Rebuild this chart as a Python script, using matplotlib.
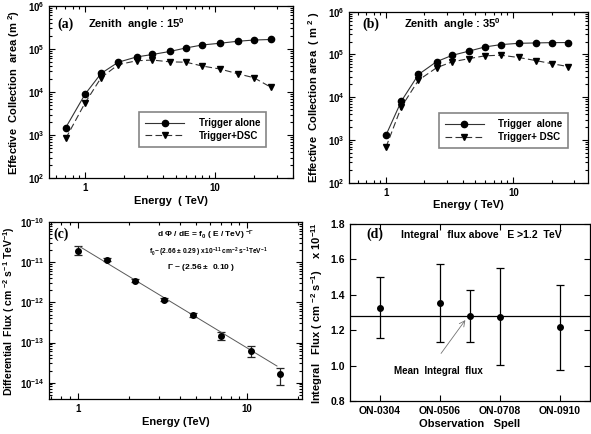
#!/usr/bin/python
""" Effective collection area, differential and integral flux panels """
import matplotlib
matplotlib.use('Agg')
import matplotlib.pyplot as plt
from matplotlib.ticker import LogLocator

plt.rcParams['font.family'] = ['Liberation Sans', 'DejaVu Sans']
plt.rcParams['font.weight'] = 'bold'
plt.rcParams['axes.labelweight'] = 'bold'
plt.rcParams['mathtext.fontset'] = 'custom'
plt.rcParams['mathtext.rm'] = 'Liberation Sans:bold'
plt.rcParams['mathtext.bf'] = 'Liberation Sans:bold'
plt.rcParams['mathtext.it'] = 'Liberation Sans:bold'
plt.rcParams['mathtext.default'] = 'bf'

# panel (a): zenith 15 deg
energy_a = [0.71, 1.0, 1.33, 1.8, 2.5, 3.3, 4.5, 6.0, 8.0, 11, 15, 20, 27]
area_trig_a = [1500, 8900, 27000, 49000, 65000, 74000, 87000, 105000,
               123000, 135000, 150000, 160000, 165000]
area_dsc_a = [840, 5600, 21500, 43000, 53000, 55000, 50000, 49000,
              40000, 34000, 26500, 21400, 12900]

# panel (b): zenith 35 deg
energy_b = [1.0, 1.32, 1.8, 2.5, 3.3, 4.5, 6.0, 8.0, 11, 15, 20, 27]
area_trig_b = [1300, 8100, 34000, 68000, 95000, 120000, 150000, 170000,
               182000, 186000, 189000, 190000]
area_dsc_b = [680, 5900, 25000, 49000, 67000, 80000, 93000, 96000,
              85000, 72000, 61000, 52000]

# panel (c): differential flux
energy_c = [1.0, 1.48, 2.18, 3.24, 4.79, 7.0, 10.6, 15.6]
flux_c = [1.9e-11, 1.17e-11, 3.5e-12, 1.18e-12, 4.9e-13, 1.45e-13, 6.0e-14, 1.6e-14]
flux_lo_c = [1.57e-11, 1.08e-11, 3.25e-12, 1.08e-12, 4.4e-13, 1.15e-13, 4.4e-14, 8.5e-15]
flux_hi_c = [2.55e-11, 1.27e-11, 3.8e-12, 1.28e-12, 5.4e-13, 1.86e-13, 8.3e-14, 2.3e-14]
f0 = 2.66e-11
gamma = 2.56
fit_range = [1.03, 15.0]
flux_ticks = [1e-14, 1e-13, 1e-12, 1e-11, 1e-10]

# panel (d): integral flux per spell
spells = ['ON-0304', 'ON-0506', 'ON-0708', 'ON-0910']
spell_pos = [1, 2, 2.5, 3, 4]
int_flux = [1.327, 1.354, 1.282, 1.276, 1.218]
int_hi = [1.50, 1.576, 1.427, 1.55, 1.455]
int_lo = [1.154, 1.132, 1.132, 1.003, 0.975]
mean_flux = 1.28

W, H = 591.0, 434.0


def px_axes(fig, left, right, top, bottom):
    return fig.add_axes([left / W, 1 - bottom / H, (right - left) / W,
                         (bottom - top) / H])


def style(ax):
    ax.tick_params(which='both', direction='in', top=True, right=True,
                   labelsize=7, width=0.8)
    ax.tick_params(which='major', length=4)
    ax.tick_params(which='minor', length=2.5)
    for sp in ax.spines.values():
        sp.set_linewidth(0.9)


def area_panel(ax, e, trig, dsc, tag, zen, lab1, lab2, xlab, ylab, leg_xy):
    ax.plot(e, trig, '-', color='0.2', lw=0.8, marker='o', ms=4.5,
            mfc='black', mec='black', label=lab1)
    ax.plot(e, dsc, '--', color='0.2', lw=0.8, dashes=(6, 3), marker='v',
            ms=4.5, mfc='black', mec='black', label=lab2)
    ax.set_xscale('log')
    ax.set_yscale('log')
    ax.set_ylim(1e2, 1e6)
    ax.set_yticks([1e2, 1e3, 1e4, 1e5, 1e6])
    ax.yaxis.set_minor_locator(LogLocator(base=10, subs=range(2, 10)))
    ax.set_xticks([1, 10])
    ax.set_xticklabels(['1', '10'])
    ax.set_xlabel(xlab, fontsize=8, labelpad=2)
    ax.set_ylabel(ylab, fontsize=8)
    style(ax)
    ax.text(tag[0], tag[1], tag[2], transform=ax.transAxes, fontsize=10,
            family='Liberation Serif', weight='bold', va='center')
    ax.text(zen[0], zen[1], zen[2], transform=ax.transAxes, fontsize=8,
            va='center')
    leg = ax.legend(loc='lower left', bbox_to_anchor=leg_xy, fontsize=7,
                    handlelength=4.0, fancybox=False, borderpad=0.6,
                    labelspacing=0.3, handletextpad=1.5)
    leg.get_frame().set_edgecolor('0.4')
    leg.get_frame().set_linewidth(1.2)


fig = plt.figure(figsize=(5.91, 4.34), dpi=100)

ax_a = px_axes(fig, 49.3, 293, 5.7, 178.3)
area_panel(ax_a, energy_a, area_trig_a, area_dsc_a, (0.035, 0.895, '(a)'),
           (0.16, 0.895, r'Zenith  angle : 15$^0$'),
           'Trigger alone', 'Trigger+DSC', 'Energy  ( TeV)',
           r'Effective  Collection  area (m $^2$)', (0.35, 0.155))
ax_a.set_xlim(0.53, 40)

ax_b = px_axes(fig, 349.3, 588, 11.7, 182.7)
area_panel(ax_b, energy_b, area_trig_b, area_dsc_b, (0.055, 0.928, '(b)'),
           (0.23, 0.928, r'Zenith  angle : 35$^0$'),
           'Trigger  alone', 'Trigger+ DSC', 'Energy ( TeV)',
           r'Effective  Collection area  ( m $^2$ )', (0.355, 0.175))
ax_b.set_xlim(0.515, 38.6)

# panel (c)
ax_c = px_axes(fig, 49.3, 301.7, 222.3, 399)
yerr = [[f - lo for f, lo in zip(flux_c, flux_lo_c)],
        [hi - f for f, hi in zip(flux_c, flux_hi_c)]]
ax_c.errorbar(energy_c, flux_c, yerr=yerr, fmt='o', ms=4, color='black',
              ecolor='0.15', elinewidth=0.9, capsize=3, capthick=0.9)
ax_c.plot(fit_range, [f0 * e ** (-gamma) for e in fit_range], '-',
          color='0.35', lw=0.7)
ax_c.set_xscale('log')
ax_c.set_yscale('log')
ax_c.set_xlim(0.68, 21)
ax_c.set_ylim(3.9e-15, 1e-10)
ax_c.set_yticks(flux_ticks)
ax_c.yaxis.set_minor_locator(LogLocator(base=10, subs=range(2, 10)))
ax_c.set_xticks([1, 10])
ax_c.set_xticklabels(['1', '10'])
ax_c.set_xlabel('Energy (TeV)', fontsize=8, labelpad=2)
ax_c.set_ylabel(r'Differential  Flux ( cm $^{-2}$ s$^{-1}$ TeV$^{-1}$)',
                fontsize=7.5, labelpad=2)
style(ax_c)
ax_c.text(0.018, 0.93, '(c)', transform=ax_c.transAxes, fontsize=10,
          family='Liberation Serif', weight='bold', va='center')
ax_c.text(0.62, 0.925, r'd $\Phi$ / dE = f$_0$ ( E / TeV) $^{-\Gamma}$',
          transform=ax_c.transAxes, fontsize=6, ha='center', va='center')
ax_c.text(0.63, 0.83,
          r'f$_0$~ (2.66 $\pm$ 0.29 ) x10$^{-11}$ cm$^{-2}$ s$^{-1}$TeV$^{-1}$',
          transform=ax_c.transAxes, fontsize=4.8, ha='center', va='center')
ax_c.text(0.6, 0.745, r'$\Gamma$ ~ (2.56 $\pm$  0.10 )',
          transform=ax_c.transAxes, fontsize=6, ha='center', va='center')

# panel (d)
ax_d = px_axes(fig, 350, 590, 224, 401)
yerr_d = [[f - lo for f, lo in zip(int_flux, int_lo)],
          [hi - f for f, hi in zip(int_flux, int_hi)]]
ax_d.errorbar(spell_pos, int_flux, yerr=yerr_d, fmt='o', ms=4,
              color='black', elinewidth=0.9, capsize=3, capthick=0.9)
ax_d.axhline(mean_flux, color='black', lw=0.9)
ax_d.set_xlim(0.5, 4.5)
ax_d.set_ylim(0.8, 1.8)
ax_d.set_xticks(range(1, len(spells) + 1))
ax_d.set_xticklabels(spells)
ax_d.set_yticks([0.8, 1.0, 1.2, 1.4, 1.6, 1.8])
style(ax_d)
ax_d.tick_params(labelsize=7.5)
ax_d.set_xlabel('Observation   Spell', fontsize=8, labelpad=2)
ax_d.set_ylabel(r'Integral   Flux ( cm $^{-2}$ s$^{-1}$)    x 10$^{-11}$',
                fontsize=8)
ax_d.text(0.07, 0.94, '(d)', transform=ax_d.transAxes, fontsize=10,
          family='Liberation Serif', weight='bold', va='center')
ax_d.text(0.546, 0.94, 'Integral   flux above   E >1.2  TeV',
          transform=ax_d.transAxes, fontsize=7.5, ha='center', va='center')
ax_d.annotate('', xy=(2.45, 1.27), xytext=(1.99, 1.056),
              arrowprops=dict(arrowstyle='->', color='0.45', lw=0.6))
ax_d.text(0.367, 0.171, 'Mean  Integral  flux', transform=ax_d.transAxes,
          fontsize=7, ha='center', va='center')

plt.savefig('out.png', dpi=100)
